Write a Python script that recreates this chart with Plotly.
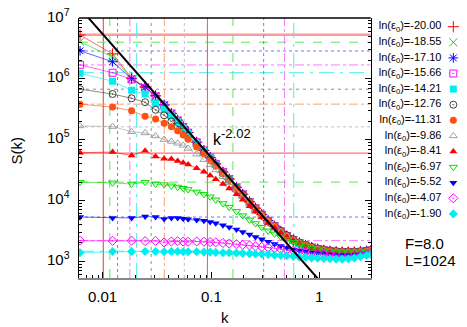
import math
import plotly.graph_objects as go

# ---------------- data ----------------
L = 1024
F = 8.0
mode_n = [1, 2, 3, 4, 5, 6, 7, 8, 9, 10, 12, 14, 16, 18, 21, 24, 28, 32, 37, 42, 48, 55, 63, 72,
          82, 94, 107, 122, 139, 158, 180, 205, 234, 266, 303, 345, 393, 448, 489]
ln_eps0 = ["-20.00", "-18.55", "-17.10", "-15.66", "-14.21", "-12.76", "-11.31",
           "-9.86", "-8.41", "-6.97", "-5.52", "-4.07", "-1.90"]
plateau_S = [5.3e6, 4.0e6, 2.87e6, 1.69e6, 1.26e6, 6.75e5, 3.83e5, 1.62e5, 6.0e4, 2.0e4,
             5.33e3, 2.18e3, 1.46e3]
fit_amp = 490.0
fit_exp = 2.02
x_tick_vals = [0.01, 0.1, 1]
x_tick_text = ["0.01", "0.1", "1"]
y_tick_exp = [3, 4, 5, 6, 7]

log10_S_1 = [6.72, 6.41, 6.01, 5.87, 5.72, 5.57, 5.43, 5.32, 5.21, 5.115, 4.955, 4.82, 4.705, 4.60,
             4.465, 4.35, 4.215, 4.10, 3.975, 3.87, 3.765, 3.665, 3.575, 3.49, 3.415, 3.35, 3.30,
             3.26, 3.225, 3.20, 3.18, 3.165, 3.155, 3.15, 3.15, 3.15, 3.155, 3.165, 3.175]
log10_S_2 = [6.61, 6.36, 6.00, 5.865, 5.715, 5.565, 5.425, 5.31, 5.205, 5.11, 4.95, 4.815, 4.70,
             4.595, 4.46, 4.345, 4.21, 4.095, 3.97, 3.865, 3.76, 3.66, 3.57, 3.485, 3.41, 3.345,
             3.295, 3.255, 3.22, 3.195, 3.175, 3.16, 3.15, 3.145, 3.145, 3.145, 3.15, 3.16, 3.17]
log10_S_3 = [6.46, 6.28, 6.00, 5.86, 5.72, 5.57, 5.435, 5.32, 5.215, 5.12, 4.96, 4.825, 4.71,
             4.605, 4.47, 4.355, 4.22, 4.105, 3.98, 3.875, 3.77, 3.67, 3.58, 3.495, 3.42, 3.355,
             3.305, 3.265, 3.23, 3.205, 3.185, 3.17, 3.16, 3.155, 3.155, 3.155, 3.16, 3.17, 3.18]
log10_S_4 = [6.23, 6.10, 5.99, 5.85, 5.71, 5.565, 5.43, 5.315, 5.21, 5.115, 4.955, 4.82, 4.705,
             4.60, 4.465, 4.35, 4.215, 4.10, 3.975, 3.87, 3.765, 3.665, 3.575, 3.49, 3.415, 3.35,
             3.30, 3.26, 3.225, 3.20, 3.18, 3.165, 3.155, 3.15, 3.15, 3.15, 3.155, 3.165, 3.175]
log10_S_5 = [6.09, 5.96, 5.81, 5.75, 5.60, 5.50, 5.39, 5.29, 5.19, 5.10, 4.945, 4.81, 4.70, 4.595,
             4.46, 4.345, 4.21, 4.095, 3.97, 3.865, 3.76, 3.66, 3.57, 3.485, 3.41, 3.345, 3.295,
             3.25, 3.215, 3.19, 3.17, 3.155, 3.145, 3.14, 3.14, 3.14, 3.145, 3.155, 3.165]
log10_S_6 = [5.83, 5.75, 5.68, 5.615, 5.49, 5.40, 5.30, 5.22, 5.135, 5.06, 4.915, 4.79, 4.68, 4.58,
             4.45, 4.34, 4.21, 4.10, 3.975, 3.87, 3.77, 3.67, 3.58, 3.50, 3.425, 3.36, 3.31, 3.27,
             3.235, 3.21, 3.19, 3.175, 3.165, 3.16, 3.16, 3.16, 3.165, 3.175, 3.185]
log10_S_7 = [5.583, 5.535, 5.475, 5.385, 5.34, 5.27, 5.21, 5.145, 5.077, 5.008, 4.878, 4.766, 4.66,
             4.567, 4.443, 4.335, 4.20, 4.09, 3.97, 3.87, 3.765, 3.665, 3.58, 3.495, 3.42, 3.355,
             3.305, 3.265, 3.23, 3.205, 3.185, 3.17, 3.16, 3.155, 3.155, 3.155, 3.16, 3.17, 3.18]
log10_S_8 = [5.225, 5.215, 5.13, 5.11, 5.06, 5.00, 4.97, 4.94, 4.905, 4.855, 4.76, 4.67, 4.585,
             4.50, 4.39, 4.29, 4.17, 4.065, 3.95, 3.85, 3.75, 3.655, 3.567, 3.485, 3.41, 3.345,
             3.295, 3.255, 3.22, 3.195, 3.175, 3.16, 3.15, 3.145, 3.145, 3.145, 3.15, 3.16, 3.17]
log10_S_9 = [4.785, 4.795, 4.739, 4.816, 4.722, 4.685, 4.68, 4.65, 4.62, 4.59, 4.53, 4.47, 4.41,
             4.35, 4.27, 4.195, 4.10, 4.01, 3.905, 3.815, 3.72, 3.63, 3.55, 3.47, 3.40, 3.34, 3.29,
             3.25, 3.215, 3.19, 3.17, 3.155, 3.145, 3.14, 3.14, 3.14, 3.145, 3.155, 3.165]
log10_S_10 = [4.30, 4.29, 4.27, 4.30, 4.27, 4.26, 4.24, 4.22, 4.20, 4.18, 4.14, 4.10, 4.06, 4.01,
              3.95, 3.89, 3.82, 3.75, 3.68, 3.62, 3.56, 3.50, 3.45, 3.40, 3.36, 3.31, 3.27, 3.24,
              3.21, 3.19, 3.17, 3.155, 3.145, 3.14, 3.14, 3.14, 3.145, 3.155, 3.165]
log10_S_11 = [3.727, 3.711, 3.711, 3.737, 3.727, 3.694, 3.711, 3.711, 3.70, 3.69, 3.68, 3.665,
              3.645, 3.625, 3.59, 3.56, 3.52, 3.48, 3.44, 3.40, 3.36, 3.32, 3.285, 3.25, 3.22,
              3.195, 3.175, 3.16, 3.145, 3.13, 3.12, 3.11, 3.10, 3.10, 3.10, 3.105, 3.11, 3.12, 3.13]
log10_S_12 = [3.338, 3.335, 3.338, 3.33, 3.335, 3.31, 3.325, 3.33, 3.325, 3.32, 3.325, 3.32, 3.315,
              3.31, 3.30, 3.29, 3.28, 3.27, 3.26, 3.245, 3.235, 3.225, 3.215, 3.20, 3.19, 3.175,
              3.16, 3.15, 3.135, 3.125, 3.115, 3.105, 3.095, 3.09, 3.09, 3.095, 3.105, 3.115, 3.13]
log10_S_13 = [3.14, 3.16, 3.16, 3.16, 3.16, 3.155, 3.16, 3.16, 3.155, 3.155, 3.155, 3.15, 3.15,
              3.145, 3.14, 3.14, 3.135, 3.13, 3.125, 3.12, 3.115, 3.11, 3.10, 3.095, 3.09, 3.08,
              3.07, 3.065, 3.055, 3.05, 3.045, 3.04, 3.035, 3.035, 3.04, 3.055, 3.075, 3.095, 3.11]

series_logS = [log10_S_1, log10_S_2, log10_S_3, log10_S_4, log10_S_5, log10_S_6, log10_S_7,
               log10_S_8, log10_S_9, log10_S_10, log10_S_11, log10_S_12, log10_S_13]

# ---------------- styles ----------------
colors = ["#ff0000", "#00dd00", "#0000ff", "#ff00ff", "#00eeee", "#404040", "#ff5010",
          "#a0a0a0", "#ff0000", "#00dd00", "#0000ff", "#ff00ff", "#00eeee"]
line_colors = ["#ff9a9a", "#55ee55", "#7777ff", "#ff77ff", "#44eeee", "#909090", "#ffa070",
               "#c0c0c0", "#ff5050", "#55ee55", "#7777ff", "#ff77ff", "#44eeee"]
symbols = ["cross-thin", "x-thin", "asterisk", "square-open-dot", "square", "circle-open-dot",
           "circle", "triangle-up-open", "triangle-up", "triangle-down-open", "triangle-down",
           "diamond-open-dot", "diamond"]
sizes = [8, 8, 8, 7, 7, 7, 7, 7, 7, 7, 7, 7, 7]
dashes = ["solid", "dash", "dot", "dashdot", "longdashdot", "3px,4px", "dashdot", "dot",
          "solid", "dash", "dot", "dashdot", "longdashdot"]
open_sym = {"cross-thin", "x-thin", "asterisk", "square-open-dot", "circle-open-dot",
            "triangle-up-open", "triangle-down-open", "diamond-open-dot"}

FONT = "Liberation Sans, Arial, Helvetica, sans-serif"
K_MIN, K_MAX = 0.006, 3.0
S_MIN, S_MAX = 530.0, 1.0e7

k_grid = [2 * math.pi * n / L for n in mode_n]

fig = go.Figure()

# plateau (horizontal) and crossover (vertical) reference lines
for i, S0 in enumerate(plateau_S):
    kc = (fit_amp / S0) ** (1.0 / fit_exp)
    hw = 2.5 if i == 0 else 1
    fig.add_trace(go.Scatter(x=[K_MIN, K_MAX], y=[S0, S0], mode="lines",
                             line=dict(color=line_colors[i], width=hw, dash=dashes[i]),
                             hoverinfo="skip", showlegend=False))
    vcol = "#ff3030" if i == 0 else line_colors[i]
    fig.add_trace(go.Scatter(x=[kc, kc], y=[S_MIN, S_MAX], mode="lines",
                             line=dict(color=vcol, width=1, dash=dashes[i]),
                             hoverinfo="skip", showlegend=False))

# data series
for i, logs in enumerate(series_logS):
    S = [10 ** v for v in logs]
    sym = symbols[i]
    if sym in open_sym:
        marker = dict(symbol=sym, size=sizes[i], color=colors[i],
                      line=dict(color=colors[i], width=1))
    else:
        marker = dict(symbol=sym, size=sizes[i], color=colors[i], line=dict(width=0))
    fig.add_trace(go.Scatter(x=k_grid, y=S, mode="lines+markers", marker=marker,
                             line=dict(color=colors[i], width=0.6),
                             showlegend=False, hoverinfo="skip"))

# power-law fit line
fit_k = [K_MIN, K_MAX]
fit_S = [fit_amp * k ** (-fit_exp) for k in fit_k]
fig.add_trace(go.Scatter(x=fit_k, y=fit_S, mode="lines", line=dict(color="black", width=2),
                         showlegend=False, hoverinfo="skip"))

# custom gnuplot-style key (text then sample) on a helper axis pair
row_y = [8.7 + 15.6 * i for i in range(len(ln_eps0))]
key_text = ["ln(\u03b5<sub>0</sub>)=" + v for v in ln_eps0]
fig.add_trace(go.Scatter(x=[0.775] * len(row_y), y=row_y, xaxis="x2", yaxis="y2", mode="text",
                         text=key_text, textposition="middle left",
                         textfont=dict(family=FONT, size=11, color="black"),
                         showlegend=False, hoverinfo="skip", cliponaxis=False))
for i in range(len(row_y)):
    sym = symbols[i]
    if sym in open_sym:
        marker = dict(symbol=sym, size=sizes[i], color=colors[i],
                      line=dict(color=colors[i], width=1))
    else:
        marker = dict(symbol=sym, size=sizes[i], color=colors[i], line=dict(width=0))
    fig.add_trace(go.Scatter(x=[0.905], y=[row_y[i]], xaxis="x2", yaxis="y2", mode="markers",
                             marker=marker, showlegend=False, hoverinfo="skip",
                             cliponaxis=False))

MAIN_W = 0.7616
x_minor = [m * 10 ** e for e in range(-3, 1) for m in range(2, 10)]
y_minor = [m * 10 ** e for e in range(2, 7) for m in range(2, 10)]

annotations = []
for v, t in zip(x_tick_vals, x_tick_text):
    annotations.append(dict(text=t, xref="x", yref="paper", x=math.log10(v), y=-0.073,
                            showarrow=False, font=dict(size=15), xanchor="center",
                            yanchor="middle"))
for e in y_tick_exp:
    annotations.append(dict(text="10<sup>%d</sup>" % e, xref="paper", yref="y", x=-0.018,
                            y=e, showarrow=False, font=dict(size=15), xanchor="right",
                            yanchor="middle", yshift=3))
annotations += [
    dict(text="S(k)", xref="paper", yref="paper", x=-0.162, y=0.49, textangle=-90,
         showarrow=False, font=dict(size=15), xanchor="center", yanchor="middle"),
    dict(text="k", xref="paper", yref="paper", x=0.381, y=-0.152, showarrow=False,
         font=dict(size=15), xanchor="center", yanchor="middle"),
    dict(text="k<sup><span style='font-size:13px'>-%.2f</span></sup>" % fit_exp,
         xref="x", yref="y", x=math.log10(0.1), y=5.04, showarrow=False,
         font=dict(size=16), xanchor="left", yanchor="middle"),
    dict(text="F=%.1f" % F, xref="paper", yref="paper", x=0.846, y=0.1335,
         showarrow=False, font=dict(size=15), xanchor="left", yanchor="middle"),
    dict(text="L=%d" % L, xref="paper", yref="paper", x=0.846, y=0.0654,
         showarrow=False, font=dict(size=15), xanchor="left", yanchor="middle"),
]

fig.update_layout(
    width=467, height=327,
    margin=dict(l=79, r=5, t=18, b=49),
    paper_bgcolor="white", plot_bgcolor="white",
    font=dict(family=FONT, color="black"),
    showlegend=False,
    xaxis=dict(type="log", domain=[0, MAIN_W], range=[math.log10(K_MIN), math.log10(K_MAX)],
               tickvals=x_tick_vals, showticklabels=False,
               ticks="inside", ticklen=6, tickcolor="black", tickwidth=1,
               minor=dict(ticks="inside", ticklen=3, tickcolor="black", tickvals=x_minor),
               showline=True, linecolor="#888888", linewidth=2, mirror=False,
               showgrid=False, zeroline=False),
    yaxis=dict(type="log", range=[math.log10(S_MIN), math.log10(S_MAX)],
               tickvals=[10 ** e for e in y_tick_exp], showticklabels=False,
               ticks="inside", ticklen=6, tickcolor="black", tickwidth=1,
               minor=dict(ticks="inside", ticklen=3, tickcolor="black", tickvals=y_minor),
               showline=True, linecolor="black", linewidth=1.5, mirror="allticks",
               showgrid=False, zeroline=False),
    xaxis2=dict(domain=[MAIN_W, 1], range=[0, 1], visible=False, anchor="y2"),
    yaxis2=dict(domain=[0, 1], range=[260, 0], visible=False, anchor="x2"),
    shapes=[dict(type="line", xref="paper", yref="paper", x0=0, x1=MAIN_W, y0=1, y1=1,
                 line=dict(color="black", width=1.5))],
    annotations=annotations,
)

fig.write_html("out.html", config={"displayModeBar": False, "staticPlot": True},
               post_script="document.body.style.margin='0px';document.body.style.padding='0px';")
